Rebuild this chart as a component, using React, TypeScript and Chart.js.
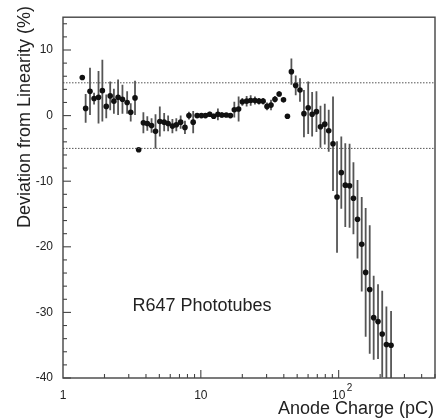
import React, { useEffect, useRef } from 'react';
import Chart from 'chart.js/auto';

// anode charge (pC), deviation from linearity (%), and its error
const charge = [
  1.38, 1.46, 1.57, 1.68, 1.81, 1.93, 2.06, 2.2, 2.34, 2.51, 2.7, 2.92, 3.1, 3.33, 3.54,
  3.83, 4.09, 4.39, 4.69, 5.04, 5.42, 5.79, 6.22, 6.64, 7.14, 7.67, 8.2, 8.8,
  9.4, 10.1, 10.8, 11.6, 12.4, 13.3, 14.2, 15.3, 16.4, 17.5, 18.8, 20.0, 21.5, 23.0,
  24.7, 26.4, 28.3, 30.2, 32.3, 34.5, 37.0, 39.8, 42.5, 45.4, 48.8, 52.4, 56.0, 60.1,
  64.2, 69.0, 73.8, 79.3, 84.7, 91.0, 97.3, 104.5, 111.7, 120, 128, 137, 147, 157,
  168, 179.5, 193, 207, 222, 240,
];
const deviation = [
  5.8, 1.1, 3.7, 2.6, 2.8, 3.8, 1.4, 3.0, 2.2, 2.8, 2.5, 2.0, 0.5, 2.7, -5.2,
  -1.1, -1.2, -1.5, -2.4, -0.9, -1.0, -1.2, -1.6, -1.4, -1.0, -1.8, 0.0, -1.0,
  0.0, 0.0, 0.0, 0.2, -0.1, 0.2, 0.1, 0.1, 0.0, 0.9, 1.0, 2.1, 2.2, 2.3,
  2.3, 2.2, 2.2, 1.4, 1.6, 2.5, 3.3, 2.4, -0.1, 6.7, 4.6, 3.9, 0.3, 1.2,
  0.2, 0.6, -1.7, -1.3, -2.3, -4.3, -12.4, -8.7, -10.6, -10.7, -12.6, -15.8, -19.6, -23.9,
  -26.5, -30.8, -31.4, -33.3, -34.9, -35.0,
];
const errors = [
  0, 2.2, 3.6, 0.9, 4.0, 4.7, 1.8, 2.2, 1.9, 2.7, 2.2, 1.7, 1.4, 2.6, 0,
  1.6, 1.1, 1.1, 2.6, 2.3, 1.4, 1.2, 1.1, 1.0, 1.0, 1.0, 0.6, 1.7,
  0.3, 0.3, 0.3, 0.4, 0.4, 0.9, 0.4, 0.3, 0.3, 1.2, 1.9, 0.6, 0.8, 0.8,
  0.6, 0.5, 0.5, 0.6, 0.8, 0.5, 0.4, 0, 0, 2.0, 1.5, 1.8, 3.6, 4.0,
  3.4, 3.1, 3.2, 3.1, 3.2, 7.2, 8.5, 5.5, 6.4, 6.4, 5.5, 6.0, 7.2, 9.8,
  9.8, 6.4, 5.7, 6.6, 5.8, 5.2,
];

const limitLevels = [5, -5];
const xRange = [1, 500];
const yRange = [-40, 15];
const xTickValues = [1, 10, 100];
const yTickValues = [-40, -30, -20, -10, 0, 10];
const labelPos = { x: 3.19, y: -29.1 };

const FONT = "'Liberation Sans', Arial, Helvetica, sans-serif";

const decor = {
  id: 'decor',
  beforeDatasetsDraw(chart: any) {
    const { ctx, chartArea: a, scales } = chart;
    const xs = scales.x;
    const ys = scales.y;
    ctx.save();
    // error bars
    ctx.beginPath();
    ctx.rect(a.left, a.top, a.right - a.left, a.bottom - a.top);
    ctx.clip();
    ctx.strokeStyle = '#555';
    ctx.lineWidth = 1.8;
    charge.forEach((c, i) => {
      const e = errors[i];
      if (!e) return;
      const px = xs.getPixelForValue(c);
      ctx.beginPath();
      ctx.moveTo(px, ys.getPixelForValue(deviation[i] + e));
      ctx.lineTo(px, ys.getPixelForValue(deviation[i] - e));
      ctx.stroke();
    });
    ctx.restore();
  },
  afterDraw(chart: any) {
    const { ctx, chartArea: a, scales } = chart;
    const xs = scales.x;
    const ys = scales.y;
    ctx.save();
    ctx.strokeStyle = '#444';
    ctx.lineWidth = 1.4;
    ctx.strokeRect(a.left, a.top, a.right - a.left, a.bottom - a.top);

    // y ticks, inward
    ctx.lineWidth = 1.1;
    for (let v = yRange[0]; v <= yRange[1]; v += 2) {
      const py = ys.getPixelForValue(v);
      const len = v % 10 === 0 ? 8 : 4;
      ctx.beginPath();
      ctx.moveTo(a.left, py);
      ctx.lineTo(a.left + len, py);
      ctx.stroke();
    }
    // x ticks, inward
    for (let d = 1; d < xRange[1]; d *= 10) {
      for (let m = 1; m < 10; m++) {
        const v = d * m;
        if (v > xRange[1] || v === 1) continue;
        const px = xs.getPixelForValue(v);
        const len = m === 1 ? 8 : 4;
        ctx.beginPath();
        ctx.moveTo(px, a.bottom);
        ctx.lineTo(px, a.bottom - len);
        ctx.stroke();
      }
    }

    ctx.fillStyle = '#222';
    // superscript of 10^2
    ctx.font = `10px ${FONT}`;
    ctx.textAlign = 'left';
    ctx.textBaseline = 'middle';
    ctx.fillText('2', xs.getPixelForValue(100) + 8, a.bottom + 10);

    // label inside plot
    ctx.font = `18px ${FONT}`;
    ctx.fillText('R647 Phototubes', xs.getPixelForValue(labelPos.x), ys.getPixelForValue(labelPos.y));

    // axis titles
    ctx.textAlign = 'right';
    ctx.textBaseline = 'alphabetic';
    ctx.fillText('Anode Charge (pC)', a.right - 1, 414);

    ctx.translate(30, 117);
    ctx.rotate(-Math.PI / 2);
    ctx.textAlign = 'center';
    ctx.fillText('Deviation from Linearity (%)', 0, 0);
    ctx.restore();
  },
};

export default function App() {
  const chartRef = useRef<HTMLCanvasElement>(null);
  const chartInstance = useRef<Chart | null>(null);

  useEffect(() => {
    if (!chartRef.current) return;
    if (chartInstance.current) chartInstance.current.destroy();

    const points = charge.map((c, i) => ({ x: c, y: deviation[i] }));
    const limits = limitLevels.map((lv) => ({
      type: 'line',
      data: xRange.map((x) => ({ x, y: lv })),
      borderColor: '#555',
      borderWidth: 1,
      borderDash: [1.5, 1.5],
      pointRadius: 0,
    }));

    chartInstance.current = new Chart(chartRef.current, {
      type: 'scatter',
      data: {
        datasets: [
          ...limits,
          {
            data: points,
            backgroundColor: '#111',
            borderColor: '#111',
            pointRadius: 2.8,
            pointBorderWidth: 0,
          },
        ] as any,
      },
      options: {
        responsive: false,
        animation: false,
        layout: { padding: { top: 7, right: 2, left: 0, bottom: 0 } },
        plugins: { legend: { display: false }, tooltip: { enabled: false } },
        scales: {
          x: {
            type: 'logarithmic',
            min: xRange[0],
            max: xRange[1],
            afterBuildTicks: (s: any) => {
              s.ticks = xTickValues.map((value) => ({ value }));
            },
            afterFit: (s: any) => {
              s.height = 40;
            },
            grid: { display: false, drawTicks: false },
            border: { display: false },
            ticks: {
              autoSkip: false,
              maxRotation: 0,
              padding: 10,
              color: '#222',
              font: { family: FONT, size: 12 },
              callback: (v: any) => (v === 100 ? '10' : String(v)),
            },
          },
          y: {
            min: yRange[0],
            max: yRange[1],
            afterBuildTicks: (s: any) => {
              s.ticks = yTickValues.map((value) => ({ value }));
            },
            afterFit: (s: any) => {
              s.width = 63;
            },
            grid: { display: false, drawTicks: false },
            border: { display: false },
            ticks: {
              padding: 10,
              color: '#222',
              font: { family: FONT, size: 12 },
            },
          },
        },
      } as any,
      plugins: [decor],
    });

    return () => {
      if (chartInstance.current) {
        chartInstance.current.destroy();
        chartInstance.current = null;
      }
    };
  }, []);

  return (
    <div style={{ position: 'fixed', left: 0, top: 0, width: 439, height: 418, background: '#fff' }}>
      <canvas ref={chartRef} width={439} height={418}></canvas>
    </div>
  );
}
